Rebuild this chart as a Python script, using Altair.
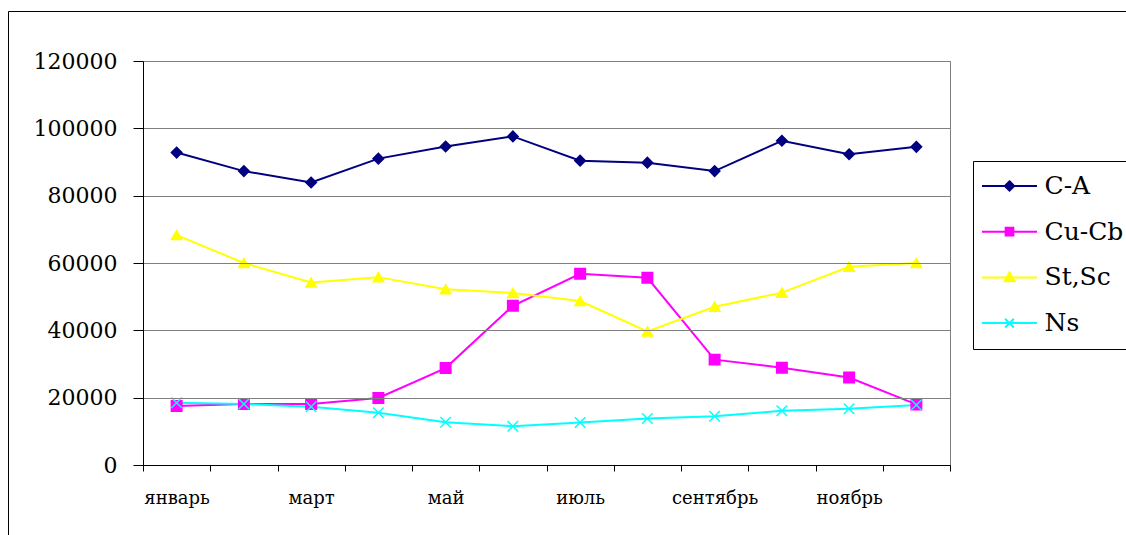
import altair as alt
import pandas as pd

months = ["январь", "февраль", "март", "апрель", "май", "июнь",
          "июль", "август", "сентябрь", "октябрь", "ноябрь", "декабрь"]
shown_labels = ["январь", "март", "май", "июль", "сентябрь", "ноябрь"]
series_names = ["C-A", "Cu-Cb", "St,Sc", "Ns"]

ca = [92800, 87300, 83900, 91000, 94600, 97600, 90400, 89800, 87300, 96300, 92300, 94500]
cucb = [17500, 18100, 18100, 19900, 28800, 47300, 56800, 55600, 31300, 28900, 26000, 18000]
stsc = [68300, 60000, 54200, 55800, 52200, 51100, 48700, 39700, 47000, 51200, 58900, 60000]
ns = [18500, 18100, 17300, 15500, 12700, 11500, 12600, 13800, 14500, 16100, 16700, 17800]

colors = ["#000080", "#FF00FF", "#FFFF00", "#00FFFF"]
shapes = ["diamond", "square", "triangle-up", "M-1,-1L1,1M-1,1L1,-1"]
# legend symbols: a horizontal line with the marker in its middle
legend_paths = [
    "M-5,0H5M0,-0.85L0.85,0L0,0.85L-0.85,0Z",
    "M-5,0H5M-0.7,-0.7H0.7V0.7H-0.7Z",
    "M-5,0H5M0,-0.9L0.9,0.7H-0.9Z",
    "M-5,0H5M-0.8,-0.8L0.8,0.8M-0.8,0.8L0.8,-0.8",
]
y_ticks = [0, 20000, 40000, 60000, 80000, 100000, 120000]

rows = []
for s, vals in zip(series_names, [ca, cucb, stsc, ns]):
    for m, v in zip(months, vals):
        rows.append({"month": m, "series": s, "value": v})
df = pd.DataFrame(rows)

FONT = "DejaVu Serif"


def js_list(items):
    return "[" + ",".join("'" + i + "'" for i in items) + "]"


label_expr = "indexof(" + js_list(shown_labels) + ", datum.value) >= 0 ? datum.label : ''"
shape_expr = js_list(legend_paths) + "[indexof(" + js_list(series_names) + ", datum.value)]"
fill_expr = js_list(colors) + "[indexof(" + js_list(series_names) + ", datum.value)]"

x_enc = alt.X(
    "month:O", sort=months, bandPosition=0.5,
    scale=alt.Scale(type="band", paddingInner=0, paddingOuter=0),
    axis=alt.Axis(title=None, labelAngle=0, tickBand="extent", labelExpr=label_expr,
                  labelFont=FONT, labelFontSize=18, labelColor="black",
                  labelPadding=18, tickSize=6, tickColor="black", domainColor="black",
                  grid=False, zindex=1),
)
y_enc = alt.Y(
    "value:Q",
    scale=alt.Scale(domain=[0, 120000], nice=False),
    axis=alt.Axis(title=None, values=y_ticks, format="d", labelFont=FONT, labelFontSize=22,
                  labelColor="black", labelPadding=16, tickSize=10, tickColor="black",
                  domainColor="black", grid=True, gridColor="#808080", gridWidth=1, zindex=1),
)

leg_line = alt.Legend(
    orient="none", legendX=830, legendY=100, title=None,
    symbolType=alt.ExprRef(expr=shape_expr),
    symbolFillColor=alt.ExprRef(expr=fill_expr),
    symbolSize=121, symbolStrokeWidth=2, symbolOffset=11.5,
    labelOffset=22.5, labelFont=FONT, labelFontSize=25, labelColor="black", labelLimit=400,
    padding=12.5, rowPadding=19.7, strokeColor="black",
)

lines = alt.Chart(df).mark_line(strokeWidth=2).encode(
    x=x_enc, y=y_enc,
    color=alt.Color("series:N", sort=series_names, scale=alt.Scale(range=colors), legend=leg_line),
)
points = alt.Chart(df).mark_point(filled=True, size=110, strokeWidth=1.5, opacity=1).encode(
    x=x_enc, y=y_enc,
    shape=alt.Shape("series:N", sort=series_names, scale=alt.Scale(range=shapes), legend=None),
    fill=alt.Fill("series:N", sort=series_names, scale=alt.Scale(range=colors), legend=None),
    stroke=alt.Stroke("series:N", sort=series_names, scale=alt.Scale(range=colors), legend=None),
)
border = alt.Chart(pd.DataFrame({"k": [0]})).mark_rect(
    fill="transparent", stroke="black", strokeWidth=1
).encode(x=alt.value(-134.5), x2=alt.value(1010), y=alt.value(-49.5), y2=alt.value(500))

chart = alt.layer(border, lines, points).properties(
    width=807, height=404,
    autosize=alt.AutoSizeParams(type="none"),
    padding={"left": 143, "top": 61, "right": 176, "bottom": 70},
    background="white",
).configure_view(stroke="#808080", strokeWidth=1)

chart.save("out.html", embed_options={"renderer": "svg", "actions": False})
